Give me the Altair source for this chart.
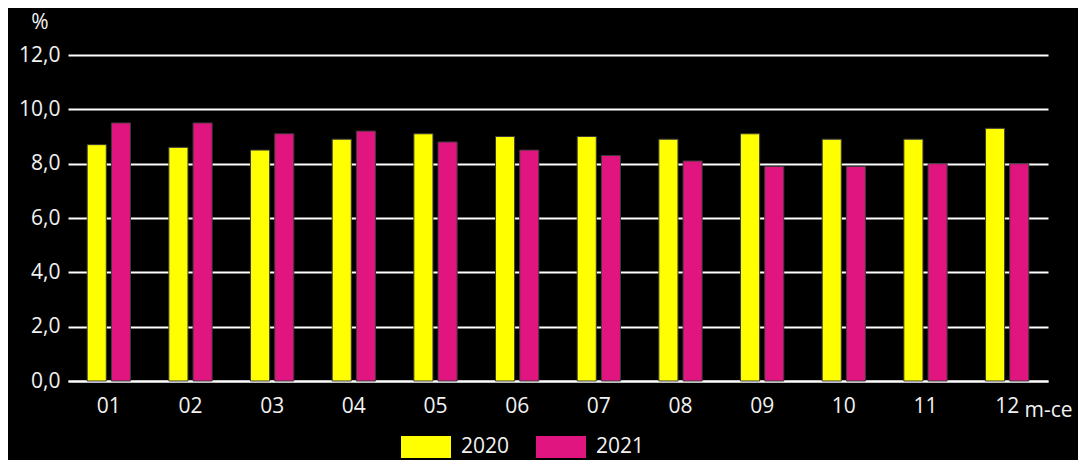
import altair as alt
import pandas as pd

months = ["01", "02", "03", "04", "05", "06", "07", "08", "09", "10", "11", "12"]
v2020 = [8.7, 8.6, 8.5, 8.9, 9.1, 9.0, 9.0, 8.9, 9.1, 8.9, 8.9, 9.3]
v2021 = [9.5, 9.5, 9.1, 9.2, 8.8, 8.5, 8.3, 8.1, 7.9, 7.9, 8.0, 8.0]
years = ["2020", "2021"]
colors = ["#ffff00", "#e0157f"]
y_ticks = [0, 2, 4, 6, 8, 10, 12]

rows = []
for m, a, b in zip(months, v2020, v2021):
    rows.append({"month": m, "year": years[0], "value": a})
    rows.append({"month": m, "year": years[1], "value": b})
df = pd.DataFrame(rows)

FONT = "Open Sans"
TXT = "#f2f2f2"
FS = 21

chart = (
    alt.Chart(df)
    .mark_bar(stroke="#3a3a3a", strokeWidth=1)
    .encode(
        x=alt.X(
            "month:N",
            sort=months,
            scale=alt.Scale(paddingInner=0.47, paddingOuter=0.235),
            axis=alt.Axis(
                title="m-ce",
                titleX=956,
                titleY=35,
                titleAlign="left",
                titleBaseline="alphabetic",
                titleAngle=0,
                titleFontSize=FS,
                titleFontWeight="normal",
                titleColor=TXT,
                titleFont=FONT,
                labelAngle=0,
                labelFontSize=FS,
                labelColor=TXT,
                labelFont=FONT,
                labelPadding=14,
                ticks=False,
                domain=True,
                domainColor="#ffffff",
                domainWidth=2,
            ),
        ),
        xOffset=alt.XOffset("year:N", sort=years, scale=alt.Scale(paddingInner=0.21)),
        y=alt.Y(
            "value:Q",
            scale=alt.Scale(domain=[0, 12], nice=False),
            axis=alt.Axis(
                values=y_ticks,
                labelExpr="replace(format(datum.value, '.1f'), '.', ',')",
                title="%",
                titleAngle=0,
                titleX=-20,
                titleY=-27,
                titleAlign="right",
                titleBaseline="alphabetic",
                titleFontSize=FS,
                titleFontWeight="normal",
                titleColor=TXT,
                titleFont=FONT,
                labelFontSize=FS,
                labelColor=TXT,
                labelFont=FONT,
                labelPadding=8,
                ticks=False,
                domain=False,
                grid=True,
                gridColor="#ffffff",
                gridWidth=2,
            ),
        ),
        color=alt.Color(
            "year:N",
            sort=years,
            scale=alt.Scale(domain=years, range=colors),
            legend=alt.Legend(
                title=None,
                orient="none",
                legendX=333,
                legendY=367,
                direction="horizontal",
                symbolType="M-1,-0.44L1,-0.44L1,0.44L-1,0.44Z",
                symbolSize=2500,
                symbolStrokeWidth=0,
                labelFontSize=FS,
                labelColor=TXT,
                labelFont=FONT,
                labelOffset=10,
                columnPadding=26,
            ),
        ),
    )
    .properties(
        width=980,
        height=326,
        autosize=alt.AutoSizeParams(type="none"),
        padding={"left": 60, "top": 47, "right": 30, "bottom": 79},
        background="#000000",
    )
    .configure_view(stroke=None)
)

chart.save("out.html", embed_options={"renderer": "svg", "actions": False})
